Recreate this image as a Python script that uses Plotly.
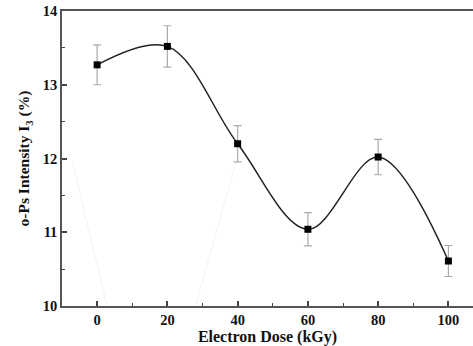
import plotly.graph_objects as go

dose = [0, 20, 40, 60, 80, 100]
intensity = [13.27, 13.52, 12.20, 11.04, 12.02, 10.61]
err = [0.27, 0.28, 0.245, 0.225, 0.24, 0.21]

faint1_x = [-7.0, 2.8]
faint1_y = [11.95, 10.0]
faint2_x = [28.0, 39.5]
faint2_y = [10.0, 11.95]

x_ticks = [0, 20, 40, 60, 80, 100]
y_ticks = [10, 11, 12, 13, 14]

font_family = "Liberation Serif"
txt = "#111111"

fig = go.Figure()
for fx, fy in [(faint1_x, faint1_y), (faint2_x, faint2_y)]:
    fig.add_trace(go.Scatter(x=fx, y=fy, mode="lines",
                             line=dict(color="rgba(0,0,0,0.06)", width=1),
                             hoverinfo="skip", showlegend=False))

fig.add_trace(go.Scatter(
    x=dose, y=intensity, mode="lines+markers",
    line=dict(color="#222222", width=1.5, shape="spline", smoothing=1.0),
    marker=dict(symbol="square", size=7, color="black"),
    error_y=dict(type="data", array=err, visible=True, color="#aaaaaa",
                 thickness=1.2, width=4),
    showlegend=False))

axis_common = dict(
    showgrid=False, zeroline=False, showline=True, linecolor="#555555",
    linewidth=1.5, ticks="inside", tickcolor="#444444", tickwidth=1.5,
    ticklen=5,
)

fig.update_layout(
    width=473, height=346,
    margin=dict(l=62, r=0, t=11, b=40),
    paper_bgcolor="white", plot_bgcolor="white",
    xaxis=dict(range=[-10, 107], tickvals=x_ticks, mirror=True,
               tickfont=dict(family=font_family, size=14.5, color=txt, weight="bold"),
               minor=dict(dtick=10, tick0=0, ticks="inside", ticklen=3,
                          tickcolor="#444444", tickwidth=1.2),
               title=dict(text="Electron Dose (kGy)", standoff=0,
                          font=dict(family=font_family, size=16, color=txt, weight="bold")),
               **axis_common),
    yaxis=dict(range=[10, 14], tickvals=y_ticks,
               tickfont=dict(family=font_family, size=14.5, color=txt, weight="bold"),
               minor=dict(dtick=0.5, tick0=10, ticks="inside", ticklen=3,
                          tickcolor="#444444", tickwidth=1.2),
               title=dict(text="o-Ps Intensity I<sub>3</sub> (%)", standoff=9,
                          font=dict(family=font_family, size=15.5, color=txt, weight="bold")),
               **axis_common),
)

fig.write_html("out.html")
